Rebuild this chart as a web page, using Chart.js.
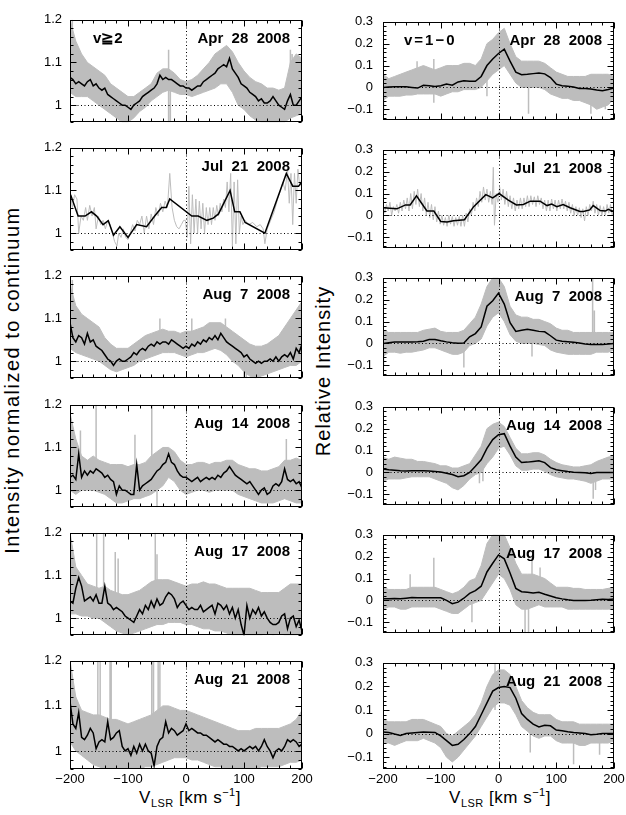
<!DOCTYPE html>
<html>
<head>
<meta charset="utf-8">
<script src="https://cdn.jsdelivr.net/npm/chart.js@4.4.0/dist/chart.umd.min.js"></script>
<style>
  body { margin: 0; background: #fff; }
  #page { position: relative; width: 626px; height: 815px; overflow: hidden; font-family: "Liberation Sans", Arial, sans-serif; color: #000; }
  .panel { position: absolute; }
  .ytitle { position: absolute; font-size: 20px; line-height: 22px; white-space: nowrap; transform: translate(-50%, -50%) rotate(-90deg); }
  .xtitle { position: absolute; font-size: 17px; line-height: 20px; white-space: nowrap; letter-spacing: 0.5px; transform: translateX(-50%); }
  .xtitle sub, .xtitle sup { font-size: 11px; position: relative; vertical-align: baseline; line-height: 0; }
  .xtitle sub { top: 4px; }
  .xtitle sup { top: -7px; }
</style>
</head>
<body>
<div id="page">
  <div class="ytitle" style="left:12px; top:380px; letter-spacing:1.5px;">Intensity normalized to continuum</div>
  <div class="ytitle" style="left:323px; top:371px; letter-spacing:1px;">Relative Intensity</div>
  <div class="xtitle" style="left:190px; top:788px;">V<sub>LSR</sub> [km s<sup>&minus;1</sup>]</div>
  <div class="xtitle" style="left:500px; top:788px;">V<sub>LSR</sub> [km s<sup>&minus;1</sup>]</div>
</div>
<script>
// velocity grids (km/s)
const vel5 = [-200,-195,-190,-185,-180,-175,-170,-165,-160,-155,-150,-145,-140,-135,-130,-125,-120,-115,-110,-105,
  -100,-95,-90,-85,-80,-75,-70,-65,-60,-55,-50,-45,-40,-35,-30,-25,-20,-15,-10,-5,
  0,5,10,15,20,25,30,35,40,45,50,55,60,65,70,75,80,85,90,95,
  100,105,110,115,120,125,130,135,140,145,150,155,160,165,170,175,180,185,190,195,200];
const vel10 = [-200,-190,-180,-170,-160,-150,-140,-130,-120,-110,-100,-90,-80,-70,-60,-50,-40,-30,-20,-10,
  0,10,20,30,40,50,60,70,80,90,100,110,120,130,140,150,160,170,180,190,200];

// ---- Apr 28 2008 ----
const aprL = [1.065,1.06,1.05,1.055,1.05,1.045,1.055,1.06,1.045,1.05,
  1.04,1.035,1.04,1.025,1.02,1.015,1.01,1.005,1.0,1.0,
  0.995,0.99,1.0,1.005,1.01,1.02,1.025,1.03,1.035,1.04,
  1.05,1.07,1.06,1.065,1.06,1.06,1.055,1.05,1.045,1.045,
  1.04,1.04,1.035,1.04,1.045,1.045,1.055,1.06,1.065,1.07,
  1.075,1.085,1.09,1.095,1.09,1.11,1.085,1.075,1.065,1.05,
  1.045,1.04,1.03,1.025,1.02,1.01,1.015,1.005,1.005,1.01,
  1.02,1.01,1.0,0.995,0.99,1.01,1.025,1.0,1.0,1.01,1.02];
const aprLUp = [1.2,1.15,1.12,1.10,1.09,1.08,1.07,1.05,1.04,1.03,
  1.02,1.02,1.03,1.04,1.05,1.075,1.085,1.085,1.075,1.06,
  1.055,1.06,1.07,1.085,1.1,1.12,1.13,1.14,1.125,1.1,
  1.08,1.065,1.055,1.05,1.04,1.04,1.035,1.04,1.1,1.12,1.11];
const aprLLo = [1.03,1.02,1.02,1.02,1.01,1.0,0.99,0.98,0.97,0.96,
  0.96,0.97,0.985,0.995,1.01,1.02,1.03,1.035,1.03,1.025,
  1.025,1.02,1.025,1.03,1.035,1.04,1.05,1.05,1.03,1.0,
  0.99,0.975,0.965,0.96,0.96,0.96,0.96,0.96,0.97,0.975,0.98];
const aprLSpV = [-196,-30,-27,180,183];
const aprLSpLo = [1.1,0.96,0.96,1.05,1.03];
const aprLSpHi = [1.2,1.13,1.06,1.13,1.12];

const aprR = [0.0,0.002,0.003,0.003,0.003,0.0,-0.003,0.01,0.007,0.004,
  0.008,0.015,0.01,0.025,0.03,0.028,0.028,0.05,0.1,0.13,
  0.155,0.175,0.12,0.07,0.058,0.06,0.063,0.066,0.062,0.045,
  0.015,0.008,0.005,0.002,-0.005,-0.005,-0.007,-0.012,-0.015,-0.01,-0.003];
const aprRUp = [0.06,0.04,0.05,0.06,0.07,0.08,0.09,0.1,0.09,0.08,
  0.09,0.1,0.1,0.1,0.11,0.11,0.1,0.13,0.2,0.22,
  0.25,0.27,0.2,0.14,0.12,0.12,0.12,0.12,0.11,0.09,
  0.07,0.06,0.05,0.05,0.05,0.05,0.06,0.06,0.06,0.06,0.05];
const aprRLo = [-0.06,-0.04,-0.04,-0.04,-0.035,-0.035,-0.03,-0.03,-0.03,-0.03,
  -0.04,-0.03,-0.02,-0.02,-0.01,-0.01,-0.01,0.0,0.03,0.06,
  0.08,0.1,0.06,0.02,0.0,0.0,0.0,0.0,-0.01,-0.03,
  -0.04,-0.05,-0.05,-0.06,-0.06,-0.07,-0.08,-0.1,-0.09,-0.08,-0.05];
const aprRSpV = [-199,-141,-112,-20,52,160,185];
const aprRSpLo = [-0.11,0.0,-0.07,-0.04,-0.12,-0.12,-0.1];
const aprRSpHi = [0.05,0.12,0.13,0.1,0.1,0.05,0.06];

// ---- Jul 21 2008 ----
const julLV = [-199,-186,-174,-163,-154,-143,-134,-125,-114,-100,-85,-68,-54,-42,-34,-28,10,21,36,47,56,76,84,93,102,136,173,184,194,200];
const julL = [1.09,1.04,1.04,1.05,1.04,1.02,1.029,0.995,1.015,0.99,1.02,1.015,1.04,1.06,1.06,1.08,1.04,1.04,1.03,1.035,1.045,1.10,1.05,1.05,1.025,1.0,1.14,1.11,1.11,1.12];
const julLGrayV = [-200,-196,-192,-188,-185,-181,-177,-173,-170,-166,-162,-158,-155,-151,-147,-143,-139,-135,-131,-127,
  -123,-119,-116,-112,-108,-104,-100,-96,-92,-88,-84,-80,-76,-72,-68,-64,-60,-56,-52,-48,
  -44,-40,-36,-32,-28,-24,-20,-16,-12,-8,-4,-1,2,5,8,11,14,17,20,23,
  26,29,32,35,38,41,44,47,50,53,56,59,62,65,68,71,74,77,80,83,
  86,89,92,95,98,102,108,115,122,128,133,136,140,146,152,158,163,167,171,175,
  178,181,184,187,190,193,196,200];
const julLGray = [1.10,1.06,1.09,1.08,1.0,1.04,1.03,1.06,1.03,1.065,1.04,1.06,1.01,1.04,1.02,1.03,1.01,1.03,1.02,1.0,
  0.98,0.97,1.0,0.99,1.01,0.99,0.985,1.0,1.02,1.005,1.03,1.02,1.04,1.0,1.04,1.01,1.045,1.02,1.06,1.04,
  1.07,1.05,1.075,1.06,1.14,1.06,1.03,1.015,1.01,1.02,1.03,1.03,0.99,1.11,0.975,1.09,1.0,1.08,1.0,1.075,
  1.01,1.07,1.0,1.06,1.02,1.06,1.02,1.06,1.03,1.065,1.04,1.07,1.05,1.08,1.06,1.12,1.05,1.14,0.97,1.12,
  0.975,1.125,1.0,1.04,1.02,1.03,1.02,1.025,1.015,1.02,1.01,0.975,1.01,1.03,1.05,1.08,1.1,1.12,1.1,1.15,
  1.07,1.14,1.02,1.14,1.07,1.15,1.11,1.13];

const julRV = [-200,-176,-161,-153,-142,-124,-112,-100,-89,-78,-59,-43,-22,-10,1,17,31,43,55,72,84,92,101,112,124,141,147,158,164,176,185,190,200];
const julR = [0.035,0.03,0.048,0.048,0.09,0.02,0.02,-0.028,-0.03,-0.025,-0.02,0.04,0.095,0.08,0.1,0.07,0.048,0.05,0.065,0.065,0.045,0.052,0.04,0.05,0.035,0.018,0.018,0.025,0.045,0.022,0.02,0.028,0.018];
const julRGrayV = [-200,-197,-194,-191,-188,-185,-182,-179,-176,-173,-170,-167,-164,-161,-158,-155,-152,-149,-146,-143,
  -140,-137,-134,-131,-128,-125,-122,-119,-116,-113,-110,-107,-104,-101,-98,-95,-92,-89,-86,-83,
  -80,-77,-74,-71,-68,-65,-62,-59,-56,-53,-50,-47,-44,-41,-38,-35,-32,-29,-26,-23,
  -20,-17,-14,-11,-9,-7,-4,-1,2,5,8,11,14,17,20,23,26,29,32,35,
  38,41,44,47,50,53,56,59,62,65,68,71,74,77,80,83,86,89,92,95,
  98,101,104,107,110,113,116,119,122,125,128,131,134,137,140,143,146,149,152,155,
  158,161,164,167,170,173,176,179,182,185,188,191,194,197,200];
const julRGray = [0.05,0.01,0.05,0.02,0.06,0.0,0.04,0.02,0.05,0.01,0.06,0.02,0.07,0.03,0.08,0.02,0.1,0.03,0.11,0.05,
  0.12,0.04,0.1,0.02,0.08,0.0,0.06,-0.01,0.05,-0.02,0.04,-0.03,0.02,-0.04,0.0,-0.045,-0.01,-0.05,0.0,-0.04,
  -0.005,-0.05,-0.01,-0.045,-0.005,-0.05,0.0,-0.05,0.01,-0.03,0.03,0.0,0.06,0.02,0.08,0.04,0.11,0.06,0.13,0.07,
  0.12,0.06,0.11,0.05,0.22,-0.045,0.1,0.06,0.13,0.07,0.12,0.05,0.11,0.04,0.09,0.03,0.08,0.02,0.07,0.03,
  0.08,0.03,0.08,0.04,0.09,0.04,0.09,0.05,0.085,0.04,0.09,0.05,0.08,0.03,0.07,0.02,0.07,0.02,0.075,0.03,
  0.07,0.02,0.07,0.03,0.075,0.03,0.065,0.02,0.06,0.01,0.05,0.0,0.04,0.0,0.035,-0.01,0.03,-0.025,0.04,0.0,
  0.05,0.02,0.065,0.01,0.05,0.0,0.045,0.0,0.04,0.0,0.05,0.01,0.05,0.0,0.035];

// ---- Aug 7 2008 ----
const aug7L = [1.09,1.055,1.045,1.06,1.055,1.04,1.065,1.045,1.05,1.035,
  1.03,1.025,1.015,1.005,1.0,0.99,1.0,1.005,1.0,1.0,
  1.005,1.01,1.02,1.015,1.025,1.03,1.025,1.035,1.04,1.035,
  1.045,1.04,1.045,1.045,1.04,1.05,1.045,1.04,1.035,1.03,
  1.035,1.03,1.04,1.035,1.045,1.04,1.05,1.045,1.055,1.05,
  1.06,1.05,1.065,1.055,1.045,1.04,1.035,1.03,1.025,1.02,
  1.01,1.015,1.005,1.0,0.995,1.0,0.995,1.0,1.0,1.005,
  1.0,1.01,1.0,1.01,1.015,1.01,1.02,1.005,1.03,1.02,1.04];
const aug7LUp = [1.18,1.13,1.11,1.1,1.09,1.08,1.055,1.04,1.03,1.03,
  1.03,1.04,1.05,1.06,1.065,1.07,1.075,1.07,1.07,1.065,
  1.07,1.07,1.075,1.08,1.09,1.09,1.09,1.08,1.07,1.06,
  1.05,1.04,1.035,1.035,1.04,1.05,1.06,1.08,1.1,1.12,1.14];
const aug7LLo = [1.03,1.02,1.015,1.01,1.005,1.0,0.99,0.98,0.975,0.98,
  0.985,0.99,1.0,1.005,1.01,1.015,1.02,1.02,1.02,1.015,
  1.01,1.015,1.02,1.02,1.025,1.03,1.025,1.015,1.0,0.99,
  0.975,0.965,0.96,0.965,0.97,0.975,0.98,0.985,0.99,0.99,1.0];
const aug7LSpV = [-196,-45,10,68,100,104];
const aug7LSpLo = [1.1,1.03,1.03,1.03,0.96,0.96];
const aug7LSpHi = [1.19,1.1,1.1,1.1,1.03,1.02];

const aug7R = [0.0,0.003,0.006,0.006,0.006,0.006,0.007,0.01,0.018,0.018,
  0.012,0.007,0.003,0.001,0.002,0.03,0.045,0.075,0.17,0.195,
  0.23,0.18,0.095,0.055,0.06,0.065,0.06,0.055,0.053,0.035,
  0.015,0.01,0.008,0.005,0.002,-0.003,-0.005,-0.005,-0.005,-0.003,0.0];
const aug7RUp = [0.06,0.05,0.05,0.05,0.05,0.05,0.05,0.06,0.065,0.07,
  0.055,0.05,0.05,0.05,0.06,0.09,0.12,0.18,0.26,0.3,
  0.3,0.26,0.17,0.13,0.12,0.12,0.11,0.11,0.1,0.09,
  0.07,0.06,0.06,0.05,0.05,0.05,0.05,0.05,0.05,0.05,0.05];
const aug7RLo = [-0.06,-0.04,-0.04,-0.045,-0.04,-0.04,-0.035,-0.03,-0.02,-0.02,
  -0.03,-0.04,-0.05,-0.05,-0.04,-0.01,0.0,0.02,0.08,0.12,
  0.14,0.1,0.04,0.01,0.0,0.0,0.0,-0.005,-0.01,-0.03,
  -0.04,-0.045,-0.05,-0.05,-0.05,-0.05,-0.05,-0.04,-0.04,-0.04,-0.03];
const aug7RSpV = [-199,-60,58,163,166];
const aug7RSpLo = [-0.1,-0.11,-0.06,0.0,0.0];
const aug7RSpHi = [0.05,0.03,0.05,0.3,0.15];

// ---- Aug 14 2008 ----
const aug14L = [1.03,1.035,1.025,1.085,1.03,1.045,1.035,1.045,1.04,1.05,
  1.045,1.04,1.03,1.035,1.025,1.02,0.99,1.01,1.0,1.0,
  0.995,0.99,0.99,1.06,1.0,1.01,1.015,1.02,1.025,1.035,
  1.045,1.05,1.06,1.065,1.085,1.065,1.06,1.045,1.035,1.03,
  1.03,1.025,1.02,1.025,1.03,1.02,1.025,1.03,1.025,1.03,
  1.025,1.035,1.03,1.04,1.045,1.055,1.045,1.035,1.03,1.025,
  1.02,1.015,1.02,1.01,1.0,0.99,1.0,1.005,0.99,0.995,
  1.01,1.015,1.01,1.02,1.05,1.025,1.02,1.025,1.015,1.02,1.005];
const aug14LUp = [1.18,1.12,1.08,1.07,1.08,1.07,1.065,1.06,1.06,1.06,
  1.055,1.06,1.06,1.065,1.08,1.09,1.1,1.1,1.09,1.07,
  1.06,1.06,1.065,1.065,1.06,1.065,1.065,1.07,1.07,1.06,
  1.055,1.05,1.05,1.045,1.045,1.05,1.055,1.07,1.07,1.075,1.07];
const aug14LLo = [1.0,0.99,1.0,1.0,1.0,0.995,0.99,0.98,0.97,0.97,
  0.975,0.98,0.98,0.985,0.99,1.0,1.01,1.03,1.02,1.0,
  0.99,0.995,1.0,1.0,0.995,1.0,1.0,1.0,1.0,0.99,
  0.985,0.98,0.975,0.97,0.97,0.97,0.975,0.98,0.975,0.97,0.97];
const aug14LSpV = [-182,-155,-88,-59,-50,173];
const aug14LSpLo = [1.03,1.04,1.0,1.04,0.96,1.02];
const aug14LSpHi = [1.14,1.2,1.13,1.2,1.02,1.12];

const aug14R = [0.015,0.012,0.01,0.007,0.006,0.007,0.008,0.008,0.006,0.004,
  0.002,-0.004,-0.01,-0.02,-0.015,0.0,0.028,0.058,0.11,0.15,
  0.172,0.177,0.12,0.07,0.045,0.047,0.05,0.053,0.045,0.022,
  0.012,0.008,0.004,0.001,0.0,-0.002,-0.005,0.0,0.0,0.0,0.0];
const aug14RUp = [0.07,0.06,0.07,0.065,0.06,0.06,0.05,0.05,0.045,0.04,
  0.03,0.03,0.02,0.02,0.03,0.04,0.08,0.12,0.2,0.22,
  0.23,0.21,0.16,0.11,0.085,0.085,0.09,0.09,0.08,0.06,
  0.045,0.035,0.03,0.025,0.025,0.03,0.035,0.05,0.06,0.07,0.075];
const aug14RLo = [-0.04,-0.03,-0.03,-0.03,-0.025,-0.02,-0.02,-0.02,-0.02,-0.03,
  -0.04,-0.05,-0.07,-0.08,-0.06,-0.03,-0.01,0.0,0.04,0.07,
  0.11,0.12,0.08,0.03,0.01,0.01,0.015,0.015,0.005,-0.01,
  -0.02,-0.025,-0.03,-0.03,-0.035,-0.04,-0.05,-0.04,-0.03,-0.03,-0.03];
const aug14RSpV = [-33,-27,164,168];
const aug14RSpLo = [-0.05,-0.04,-0.12,-0.08];
const aug14RSpHi = [0.1,0.14,0.0,0.02];

// ---- Aug 17 2008 ----
const aug17L = [1.04,1.035,1.07,1.095,1.075,1.04,1.045,1.05,1.04,1.055,
  1.035,1.035,1.075,1.035,1.03,1.02,1.025,1.02,1.015,1.005,
  1.0,0.995,0.99,1.005,1.02,1.01,1.03,1.02,1.04,1.025,
  1.045,1.03,1.035,1.05,1.06,1.055,1.045,1.025,1.035,1.04,
  1.03,1.02,1.025,1.02,1.02,1.03,1.015,1.02,1.025,1.03,
  1.01,1.035,1.03,1.02,1.03,1.01,1.025,1.0,1.02,0.985,
  0.96,1.03,1.0,1.02,1.01,1.025,1.005,1.015,1.0,0.99,
  0.985,0.985,0.99,1.005,1.01,0.975,1.0,1.005,0.98,0.995,0.97];
const aug17LUp = [1.2,1.12,1.1,1.08,1.075,1.07,1.075,1.065,1.06,1.055,
  1.055,1.06,1.065,1.075,1.085,1.09,1.09,1.09,1.085,1.08,
  1.075,1.08,1.08,1.085,1.08,1.08,1.075,1.07,1.07,1.07,
  1.07,1.07,1.065,1.06,1.06,1.06,1.06,1.07,1.08,1.08,1.08];
const aug17LLo = [1.01,1.01,1.005,1.005,1.0,1.0,0.99,0.98,0.97,0.965,
  0.96,0.965,0.97,0.975,0.98,0.985,0.985,0.99,0.99,0.99,
  0.985,0.985,0.98,0.975,0.975,0.97,0.97,0.965,0.96,0.96,
  0.96,0.96,0.96,0.96,0.965,0.96,0.965,0.96,0.96,0.96,0.96];
const aug17LSpV = [-154,-142,-122,-117,-53,-50,100];
const aug17LSpLo = [1.04,1.04,1.02,1.02,1.03,1.03,0.96];
const aug17LSpHi = [1.2,1.2,1.155,1.14,1.2,1.15,1.03];

const aug17R = [0.008,0.008,0.009,0.007,0.01,0.013,0.012,0.012,0.012,0.012,
  0.012,0.0,-0.015,-0.008,0.01,0.032,0.045,0.065,0.13,0.17,
  0.208,0.19,0.125,0.055,0.04,0.037,0.034,0.037,0.028,0.02,
  0.012,0.007,0.003,0.0,0.0,0.0,0.001,0.003,0.005,0.004,0.006];
const aug17RUp = [0.06,0.05,0.05,0.05,0.05,0.06,0.06,0.06,0.06,0.06,
  0.05,0.04,0.03,0.04,0.06,0.09,0.1,0.16,0.26,0.3,
  0.3,0.3,0.24,0.17,0.12,0.12,0.12,0.11,0.1,0.08,
  0.06,0.06,0.06,0.055,0.055,0.05,0.05,0.05,0.05,0.055,0.06];
const aug17RLo = [-0.04,-0.03,-0.03,-0.04,-0.04,-0.03,-0.03,-0.03,-0.03,-0.03,
  -0.04,-0.05,-0.06,-0.06,-0.04,-0.02,-0.01,0.0,0.04,0.08,
  0.12,0.1,0.05,-0.02,-0.04,-0.04,-0.03,-0.02,-0.03,-0.03,
  -0.03,-0.03,-0.04,-0.04,-0.04,-0.04,-0.04,-0.04,-0.04,-0.04,-0.04];
const aug17RSpV = [-153,-112,-46,46,52,58,72];
const aug17RSpLo = [0.0,0.0,-0.1,-0.15,-0.15,0.0,0.0];
const aug17RSpHi = [0.12,0.195,0.0,0.05,0.05,0.2,0.15];

// ---- Aug 21 2008 ----
const aug21L = [1.11,1.06,1.05,1.085,1.03,1.025,1.035,1.05,1.04,1.005,
  1.02,1.025,1.02,1.065,1.025,1.03,1.04,1.045,1.01,1.0,
  1.005,0.99,1.01,0.995,1.015,1.0,1.015,1.0,0.995,0.967,
  1.01,1.025,1.03,1.065,1.04,1.05,1.045,1.035,1.04,1.045,
  1.06,1.045,1.05,1.045,1.04,1.04,1.035,1.035,1.03,1.025,
  1.02,1.025,1.02,1.015,1.015,1.01,1.01,1.005,1.0,1.005,
  1.0,1.005,1.01,1.005,1.01,1.0,1.01,1.025,1.01,1.0,
  0.985,1.0,1.005,1.0,1.01,1.025,1.02,1.025,1.02,1.01,1.015];
const aug21LUp = [1.2,1.12,1.09,1.085,1.08,1.08,1.075,1.07,1.07,1.065,
  1.06,1.065,1.07,1.075,1.08,1.09,1.1,1.1,1.095,1.09,
  1.09,1.085,1.08,1.075,1.07,1.065,1.06,1.055,1.05,1.045,
  1.045,1.045,1.05,1.05,1.05,1.05,1.05,1.055,1.06,1.07,1.09];
const aug21LLo = [1.02,1.0,0.99,0.98,0.97,0.965,0.96,0.96,0.96,0.96,
  0.96,0.96,0.96,0.965,0.965,0.97,0.975,0.98,0.985,0.985,
  0.985,0.98,0.98,0.975,0.97,0.965,0.965,0.96,0.96,0.96,
  0.96,0.96,0.96,0.965,0.965,0.965,0.965,0.97,0.975,0.975,0.98];
const aug21LSpV = [-152,-148,-131,-129,-59,-56,-48,-45];
const aug21LSpLo = [0.97,0.97,1.0,0.98,0.97,0.97,0.98,0.98];
const aug21LSpHi = [1.2,1.2,1.2,1.2,1.2,1.2,1.2,1.2];

const aug21R = [0.007,0.005,-0.002,-0.008,0.0,0.003,0.005,0.007,0.006,0.005,
  -0.01,-0.03,-0.05,-0.045,-0.025,0.0,0.03,0.08,0.13,0.18,
  0.195,0.2,0.195,0.15,0.085,0.06,0.04,0.028,0.035,0.033,
  0.015,0.012,0.008,0.005,0.003,0.0,-0.005,-0.003,0.0,0.0,0.0];
const aug21RUp = [0.06,0.05,0.05,0.05,0.05,0.06,0.06,0.06,0.05,0.04,
  0.03,0.0,-0.01,0.01,0.03,0.05,0.08,0.13,0.2,0.25,
  0.27,0.27,0.25,0.2,0.14,0.11,0.09,0.08,0.08,0.08,
  0.06,0.05,0.05,0.05,0.04,0.04,0.04,0.04,0.04,0.04,0.04];
const aug21RLo = [-0.04,-0.04,-0.05,-0.04,-0.03,-0.03,-0.03,-0.02,-0.03,-0.04,
  -0.06,-0.1,-0.12,-0.1,-0.07,-0.04,-0.01,0.03,0.07,0.11,
  0.13,0.13,0.12,0.08,0.03,0.01,-0.01,-0.02,-0.01,-0.01,
  -0.03,-0.04,-0.04,-0.04,-0.05,-0.05,-0.04,-0.04,-0.04,-0.04,-0.03];
const aug21RSpV = [-6,55,130,175];
const aug21RSpLo = [0.1,-0.08,-0.13,-0.09];
const aug21RSpHi = [0.3,0.05,0.04,0.04];

const GRAY = '#bdbdbd';
const FONT = '"Liberation Sans", Arial, sans-serif';
const PLOT_TOP = [14, 142, 270, 399, 527, 655];
const PLOT_H = 114;

const panels = [
  { row: 0, col: 0, label: 'Apr  28  2008', tag: 'v\u22672', black: [vel5, aprL], band: [vel10, aprLUp, aprLLo], spikes: [aprLSpV, aprLSpLo, aprLSpHi] },
  { row: 0, col: 1, label: 'Apr  28  2008', tag: 'v=1\u22120', black: [vel10, aprR], band: [vel10, aprRUp, aprRLo], spikes: [aprRSpV, aprRSpLo, aprRSpHi] },
  { row: 1, col: 0, label: 'Jul  21  2008', black: [julLV, julL], gray: [julLGrayV, julLGray] },
  { row: 1, col: 1, label: 'Jul  21  2008', black: [julRV, julR], gray: [julRGrayV, julRGray] },
  { row: 2, col: 0, label: 'Aug  7  2008', black: [vel5, aug7L], band: [vel10, aug7LUp, aug7LLo], spikes: [aug7LSpV, aug7LSpLo, aug7LSpHi] },
  { row: 2, col: 1, label: 'Aug  7  2008', black: [vel10, aug7R], band: [vel10, aug7RUp, aug7RLo], spikes: [aug7RSpV, aug7RSpLo, aug7RSpHi] },
  { row: 3, col: 0, label: 'Aug  14  2008', black: [vel5, aug14L], band: [vel10, aug14LUp, aug14LLo], spikes: [aug14LSpV, aug14LSpLo, aug14LSpHi] },
  { row: 3, col: 1, label: 'Aug  14  2008', black: [vel10, aug14R], band: [vel10, aug14RUp, aug14RLo], spikes: [aug14RSpV, aug14RSpLo, aug14RSpHi] },
  { row: 4, col: 0, label: 'Aug  17  2008', black: [vel5, aug17L], band: [vel10, aug17LUp, aug17LLo], spikes: [aug17LSpV, aug17LSpLo, aug17LSpHi] },
  { row: 4, col: 1, label: 'Aug  17  2008', black: [vel10, aug17R], band: [vel10, aug17RUp, aug17RLo], spikes: [aug17RSpV, aug17RSpLo, aug17RSpHi] },
  { row: 5, col: 0, label: 'Aug  21  2008', black: [vel5, aug21L], band: [vel10, aug21LUp, aug21LLo], spikes: [aug21LSpV, aug21LSpLo, aug21LSpHi] },
  { row: 5, col: 1, label: 'Aug  21  2008', black: [vel10, aug21R], band: [vel10, aug21RUp, aug21RLo], spikes: [aug21RSpV, aug21RSpLo, aug21RSpHi] }
];

Chart.defaults.font.family = FONT;
Chart.defaults.font.size = 13;
Chart.defaults.color = '#000';

function pts(xs, ys) {
  return xs.map((x, i) => ({ x: x, y: ys[i] }));
}

function spikePts(vs, lo, hi) {
  const out = [];
  vs.forEach((v, i) => {
    out.push({ x: v, y: lo[i] }, { x: v, y: hi[i] }, { x: v, y: null });
  });
  return out;
}

function minus(v) {
  return v < 0 ? '\u2212' + Math.abs(v) : String(v);
}

// frame, inward ticks on all sides, dotted zero lines and panel labels
const axesFrame = {
  id: 'axesFrame',
  afterDatasetsDraw(chart, args, o) {
    const { ctx, chartArea: a } = chart;
    const xs = chart.scales.x, ys = chart.scales.y;
    const L = Math.round(a.left) + 0.5, R = Math.round(a.right) - 0.5;
    const T = Math.round(a.top) + 0.5, B = Math.round(a.bottom) - 0.5;
    ctx.save();
    ctx.strokeStyle = '#000';
    ctx.lineWidth = 1;

    ctx.setLineDash([1, 2.5]);
    const x0 = Math.round(xs.getPixelForValue(0)) + 0.5;
    const y0 = Math.round(ys.getPixelForValue(o.refY)) + 0.5;
    ctx.beginPath();
    ctx.moveTo(x0, T); ctx.lineTo(x0, B);
    ctx.moveTo(L, y0); ctx.lineTo(R, y0);
    ctx.stroke();
    ctx.setLineDash([]);

    ctx.beginPath();
    for (let k = -10; k <= 10; k++) {
      const px = Math.round(xs.getPixelForValue(k * 20)) + 0.5;
      const len = k % 5 === 0 ? 6 : 3;
      ctx.moveTo(px, B); ctx.lineTo(px, B - len);
      ctx.moveTo(px, T); ctx.lineTo(px, T + len);
    }
    for (let k = o.yFrom; k <= o.yTo; k++) {
      const py = Math.round(ys.getPixelForValue(k * 0.02)) + 0.5;
      const len = k % 5 === 0 ? 6 : 3;
      ctx.moveTo(L, py); ctx.lineTo(L + len, py);
      ctx.moveTo(R, py); ctx.lineTo(R - len, py);
    }
    ctx.stroke();
    ctx.strokeRect(L, T, R - L, B - T);

    ctx.fillStyle = '#000';
    ctx.font = 'bold 15px ' + FONT;
    ctx.textBaseline = 'alphabetic';
    ctx.textAlign = 'right';
    ctx.fillText(o.label, a.right - 12, a.top + 23);
    if (o.tag) {
      ctx.textAlign = 'left';
      ctx.letterSpacing = o.tagSpacing;
      ctx.fillText(o.tag, a.left + o.tagX, a.top + 23);
    }
    ctx.restore();
  }
};

function makePanel(p) {
  const left = p.col === 0;
  const bottomRow = p.row === 5;
  const plotTop = PLOT_TOP[p.row];
  const div = document.createElement('div');
  div.className = 'panel';
  div.style.left = (left ? 0 : 312) + 'px';
  div.style.top = (plotTop - 10) + 'px';
  const canvas = document.createElement('canvas');
  canvas.width = 330;
  canvas.height = PLOT_H + 10 + (bottomRow ? 20 : 10);
  div.appendChild(canvas);
  document.getElementById('page').appendChild(div);

  const datasets = [{
    data: pts(p.black[0], p.black[1]),
    borderColor: '#000', borderWidth: 1.5, pointRadius: 0, tension: 0, fill: false
  }];
  if (p.band) {
    datasets.push({
      data: pts(p.band[0], p.band[1]),
      borderColor: GRAY, backgroundColor: GRAY, borderWidth: 1, pointRadius: 0, tension: 0, fill: '+1'
    }, {
      data: pts(p.band[0], p.band[2]),
      borderColor: GRAY, borderWidth: 1, pointRadius: 0, tension: 0, fill: false
    }, {
      data: spikePts(p.spikes[0], p.spikes[1], p.spikes[2]),
      borderColor: GRAY, borderWidth: 1.5, pointRadius: 0, tension: 0, fill: false, spanGaps: false
    });
  } else {
    datasets.push({
      data: pts(p.gray[0], p.gray[1]),
      borderColor: GRAY, borderWidth: 1, pointRadius: 0, tension: 0, fill: false
    });
  }

  const yTicks = left ? [1, 1.1, 1.2] : [-0.1, 0, 0.1, 0.2, 0.3];

  new Chart(canvas, {
    type: 'line',
    data: { datasets: datasets },
    plugins: [axesFrame],
    options: {
      responsive: false,
      animation: false,
      devicePixelRatio: 1,
      events: [],
      layout: { padding: { top: 10, right: 28, bottom: bottomRow ? 0 : 10, left: 0 } },
      plugins: {
        legend: { display: false },
        tooltip: { enabled: false },
        axesFrame: {
          refY: left ? 1 : 0,
          yFrom: left ? 48 : -7,
          yTo: left ? 60 : 15,
          label: p.label,
          tag: p.tag,
          tagX: left ? 23 : 21,
          tagSpacing: left ? '0px' : '2px'
        }
      },
      scales: {
        x: {
          type: 'linear',
          min: -200, max: 200,
          grid: { display: false, drawTicks: false },
          border: { display: false },
          afterBuildTicks: s => { s.ticks = [-200, -100, 0, 100, 200].map(v => ({ value: v })); },
          afterFit: s => { s.height = bottomRow ? 20 : 0; },
          ticks: { display: bottomRow, autoSkip: false, maxRotation: 0, padding: 3, callback: v => minus(v) }
        },
        y: {
          type: 'linear',
          min: left ? 0.96 : -0.15,
          max: left ? 1.2 : 0.3,
          grid: { display: false, drawTicks: false },
          border: { display: false },
          afterBuildTicks: s => { s.ticks = yTicks.map(v => ({ value: v })); },
          afterFit: s => { s.width = left ? 70 : 71; },
          ticks: {
            padding: left ? 8 : 10,
            callback: v => (v === 0 || v === 1) ? String(v) : (v < 0 ? '\u2212' : '') + Math.abs(v).toFixed(1)
          }
        }
      }
    }
  });
}

panels.forEach(makePanel);
</script>
</body>
</html>
